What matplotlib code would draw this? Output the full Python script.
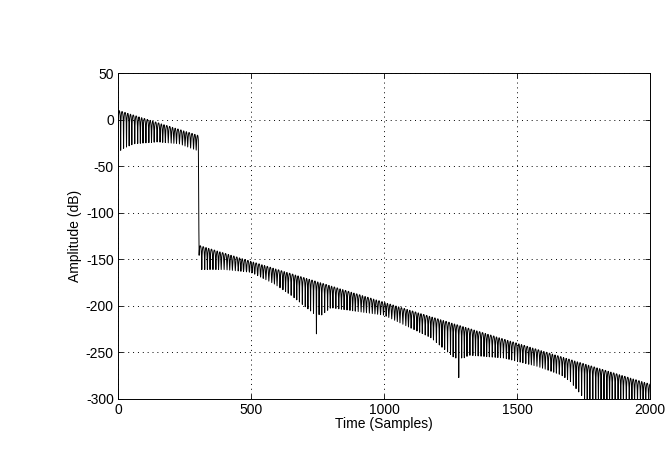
import numpy as np
import matplotlib
matplotlib.use("Agg")
import matplotlib.pyplot as plt

# ---- data ----
# upper envelope of the decaying response (sample index, dB)
upper_n = [0, 302, 304, 2000]
upper_db = [10, -17, -135, -284]
# depth reached by the downward spikes (sample index, dB)
lower_n = [0, 20, 60, 150, 230, 296, 302,
           305, 400, 500, 585, 648, 700, 735, 765, 800, 900, 1000,
           1175, 1237, 1265, 1300, 1320, 1450, 1577, 1665, 1700, 1745, 1775, 2000]
lower_db = [-35, -31, -26, -24, -26, -33, -33,
            -161, -161, -164, -176, -188, -200, -208, -210, -202, -206, -210,
            -234, -249, -256, -256, -253, -256, -265, -274, -281, -297, -306, -306]
# isolated deepest spikes (sample index, dB)
dip_n = [750, 1282, 1800]
dip_db = [-230, -277, -320]
spike_period = 10.5          # samples between downward spikes
n_samples = 2001

x_ticks = [0, 500, 1000, 1500, 2000]
y_ticks = [-300, -250, -200, -150, -100, -50, 0, 50]

# ---- build trace from the envelopes ----
n = np.arange(n_samples)
up = np.interp(n, upper_n, upper_db)
lo = np.interp(n, lower_n, lower_db)
centers = np.round(np.arange(0, n_samples + spike_period, spike_period)).astype(int)
centers = centers[centers < n_samples]
for dn, dv in zip(dip_n, dip_db):
    c = centers[np.argmin(np.abs(centers - dn))]
    lo[c] = dv
idx = np.searchsorted(centers, n)
idx = np.clip(idx, 1, len(centers) - 1)
d = np.minimum(np.abs(n - centers[idx - 1]), np.abs(centers[idx] - n))
shape = 20 * np.log10(np.abs(np.sin(np.pi * d / spike_period)) + 1e-12)
y = up + np.maximum(shape, lo - up)
y[d == 0] = lo[d == 0]

# ---- plot ----
plt.rcParams['font.family'] = ['Liberation Sans', 'DejaVu Sans']
plt.rcParams['axes.unicode_minus'] = False
fig = plt.figure(figsize=(6.69, 4.66), dpi=100)
ax = fig.add_axes([118 / 669, 1 - 399 / 466, (650 - 118) / 669, (399 - 73) / 466])
ax.plot(n, y, color='black', lw=0.7)
ax.set_xlim(0, 2000)
ax.set_ylim(-300, 50)
ax.set_xticks(x_ticks)
ax.set_yticks(y_ticks)
ax.grid(True, color='black', linestyle=(0, (1, 4)), linewidth=0.7)
ax.tick_params(direction='in', length=3.5, width=0.6, labelsize=10, pad=3,
               top=True, right=True)
for s in ax.spines.values():
    s.set_linewidth(0.7)
ax.set_xlabel('Time (Samples)', fontsize=10, labelpad=0)
ax.set_ylabel('Amplitude (dB)', fontsize=10, labelpad=3)
fig.savefig('out.png', dpi=100)
